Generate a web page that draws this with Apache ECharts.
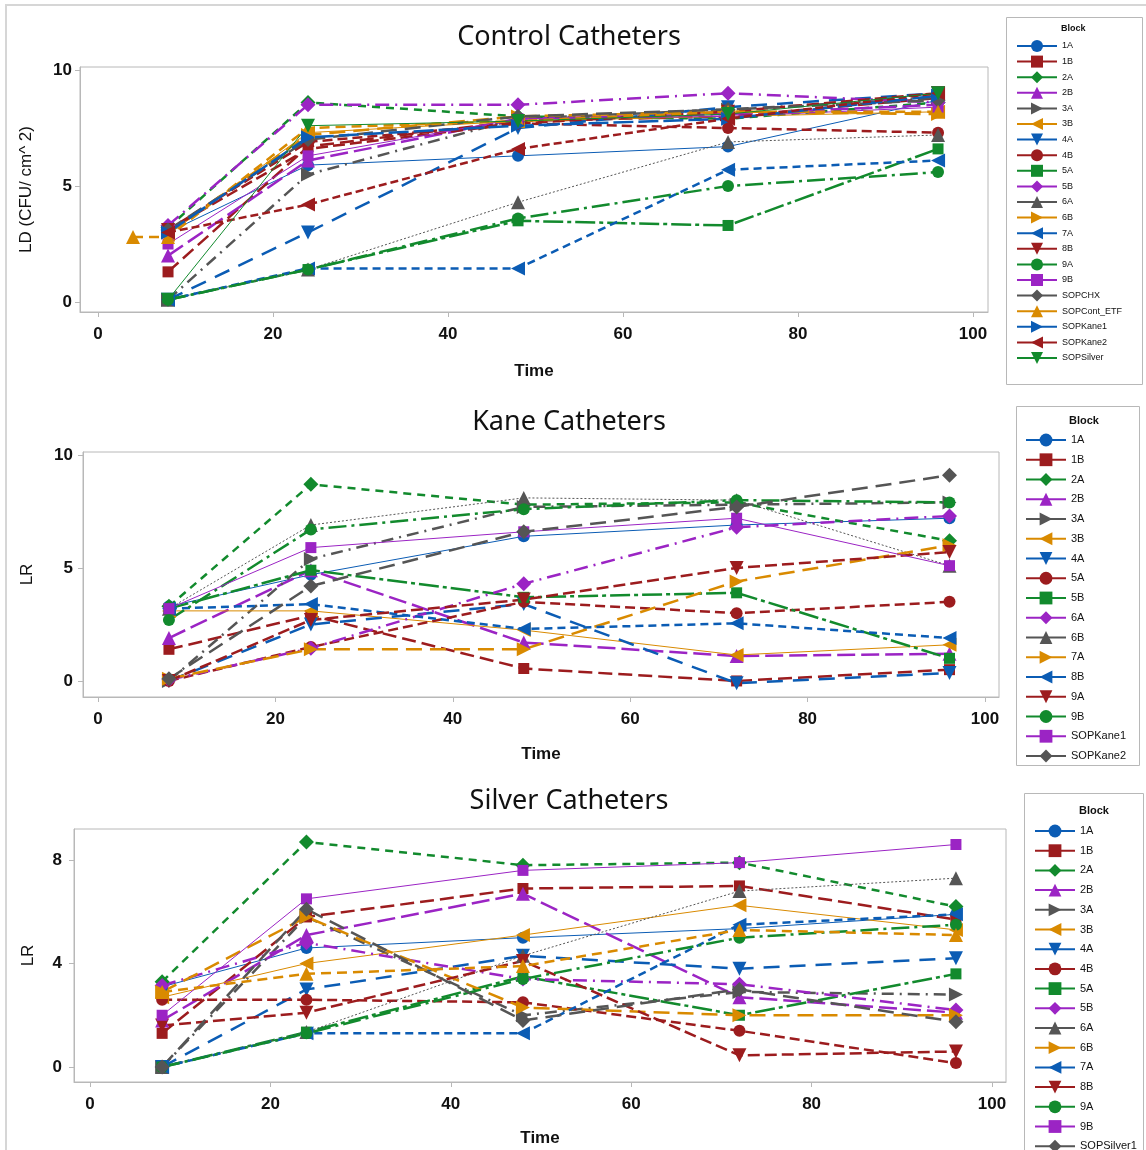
<!DOCTYPE html>
<html>
<head>
<meta charset="utf-8">
<title>Catheters</title>
<script src="https://cdn.jsdelivr.net/npm/echarts@6/dist/echarts.min.js"></script>
<style>
html, body { margin: 0; padding: 0; background: #fff; }
#page { position: relative; width: 1146px; height: 1150px; overflow: hidden; }
.frame { position: absolute; left: 5px; top: 4px; width: 1300px; height: 1300px;
         border-left: 2px solid #d6d6d6; border-top: 2px solid #d6d6d6; }
.chart { position: absolute; left: 0; width: 1146px; }
</style>
</head>
<body>
<div id="page">
  <div class="frame"></div>
  <div id="chart-control" class="chart" style="top:0;height:390px"></div>
  <div id="chart-kane" class="chart" style="top:390px;height:385px"></div>
  <div id="chart-silver" class="chart" style="top:775px;height:440px"></div>
</div>
<script>
// 采样时间 (h)
const TIMES = [8, 24, 48, 72, 96];
const X_TICKS = [0, 20, 40, 60, 80, 100];

// Control catheters, LD (CFU/cm^2) at TIMES
const controlBlocks = ['1A', '1B', '2A', '2B', '3A', '3B', '4A', '4B', '5A', '5B', '6A', '6B',
    '7A', '8B', '9A', '9B', 'SOPCHX', 'SOPCont_ETF', 'SOPKane1', 'SOPKane2', 'SOPSilver'];
const controlLD = [
    [3.0, 5.9, 6.3, 6.7, 8.7],   // 1A
    [1.3, 6.7, 7.8, 8.0, 8.8],   // 1B
    [3.2, 8.6, 8.0, 7.9, 8.6],   // 2A
    [2.0, 6.1, 7.9, 8.1, 8.5],   // 2B
    [0.1, 5.5, 7.9, 8.3, 8.8],   // 3A
    [2.9, 7.3, 7.8, 8.0, 8.2],   // 3B
    [0.1, 3.0, 7.5, 8.4, 9.0],   // 4A
    [3.1, 6.9, 7.7, 7.5, 7.3],   // 4B
    [0.1, 1.4, 3.5, 3.3, 6.6],   // 5A
    [3.3, 8.5, 8.5, 9.0, 8.6],   // 5B
    [0.1, 1.4, 4.3, 6.9, 7.2],   // 6A
    [3.0, 7.2, 8.0, 8.2, 8.1],   // 6B
    [0.1, 1.45, 1.45, 5.7, 6.1], // 7A
    [3.1, 6.6, 7.7, 8.2, 9.0],   // 8B
    [0.1, 1.4, 3.6, 5.0, 5.6],   // 9A
    [2.5, 6.3, 7.9, 8.0, 8.4],   // 9B
    [3.1, 7.0, 8.0, 8.3, 8.7],   // SOPCHX
    [2.8, 7.5, 7.8, 8.2, 8.2],   // SOPCont_ETF
    [3.0, 7.1, 7.6, 7.9, 8.9],   // SOPKane1
    [3.0, 4.2, 6.6, 7.9, 9.0],   // SOPKane2
    [0.1, 7.6, 7.8, 8.1, 9.0]    // SOPSilver
];
// SOPCont_ETF 多一个 4h 的点
const controlEtfEarly = [[4, 2.8]];

// Kane catheters, LR at TIMES
const kaneBlocks = ['1A', '1B', '2A', '2B', '3A', '3B', '4A', '5A', '5B', '6A', '6B', '7A',
    '8B', '9A', '9B', 'SOPKane1', 'SOPKane2'];
const kaneLR = [
    [3.3, 4.7, 6.4, 6.9, 7.2],   // 1A
    [1.4, 2.9, 0.55, 0.0, 0.5],  // 1B
    [3.3, 8.7, 7.8, 7.9, 6.2],   // 2A
    [1.9, 4.9, 1.7, 1.1, 1.2],   // 2B
    [0.0, 5.4, 7.7, 7.8, 7.9],   // 3A
    [3.1, 3.1, 2.25, 1.15, 1.6], // 3B
    [0.0, 2.5, 3.4, -0.1, 0.35], // 4A
    [0.0, 1.5, 3.5, 3.0, 3.5],   // 5A
    [3.2, 4.9, 3.7, 3.9, 1.0],   // 5B
    [0.05, 1.45, 4.3, 6.8, 7.3], // 6A
    [3.2, 6.9, 8.1, 8.0, 5.1],   // 6B
    [0.1, 1.4, 1.4, 4.4, 6.0],   // 7A
    [3.2, 3.4, 2.3, 2.55, 1.9],  // 8B
    [0.0, 2.7, 3.6, 5.0, 5.7],   // 9A
    [2.7, 6.7, 7.6, 8.0, 7.9],   // 9B
    [3.2, 5.9, 6.6, 7.2, 5.1],   // SOPKane1
    [0.1, 4.2, 6.6, 7.7, 9.1]    // SOPKane2
];

// Silver catheters, LR at TIMES
const silverBlocks = ['1A', '1B', '2A', '2B', '3A', '3B', '4A', '4B', '5A', '5B', '6A', '6B',
    '7A', '8B', '9A', '9B', 'SOPSilver1', 'SOPSilver2'];
const silverLR = [
    [3.1, 4.6, 5.0, 5.35, 5.9],  // 1A
    [1.3, 5.8, 6.9, 7.0, 5.7],   // 1B
    [3.3, 8.7, 7.8, 7.9, 6.2],   // 2A
    [1.8, 5.1, 6.7, 2.7, 2.1],   // 2B
    [0.0, 5.8, 2.0, 2.9, 2.8],   // 3A
    [2.7, 4.0, 5.1, 6.25, 5.3],  // 3B
    [0.0, 3.0, 4.3, 3.8, 4.2],   // 4A
    [2.6, 2.6, 2.5, 1.4, 0.15],  // 4B
    [0.0, 1.35, 3.5, 2.0, 3.6],  // 5A
    [3.15, 4.8, 3.4, 3.2, 2.2],  // 5B
    [0.0, 1.35, 4.3, 6.8, 7.3],  // 6A
    [2.9, 5.8, 2.3, 2.0, 2.0],   // 6B
    [0.0, 1.3, 1.3, 5.5, 5.9],   // 7A
    [1.6, 2.1, 4.1, 0.45, 0.6],  // 8B
    [0.0, 1.3, 3.4, 5.0, 5.5],   // 9A
    [2.0, 6.5, 7.6, 7.9, 8.6],   // 9B
    [0.0, 6.1, 1.8, 3.0, 1.75],  // SOPSilver1
    [2.9, 3.6, 3.9, 5.3, 5.1]    // SOPSilver2
];

//样式循环 begin
const COLORS = ['#0b5cb4', '#9c1c1e', '#128a2d', '#9b24c4', '#555555', '#d98a00'];
const SYMBOLS = ['circle', 'rect', 'diamond', 'triangle',
    'path://M0,0L10,5L0,10Z', 'path://M10,0L0,5L10,10Z', 'path://M0,0L10,0L5,10Z'];
const SYMBOL_SIZES = [12, 11, 15, 14, 14, 14, 14];
const DASHES = ['solid', [14, 6], [8, 6], [18, 6], [12, 6, 2, 6], 'solid', [16, 10], [10, 5],
    [20, 4, 4, 4], [14, 6, 2, 6], [2, 2], [16, 8], [8, 5], [12, 5], [18, 5, 3, 5], 'solid',
    [16, 8], [10, 6], [20, 5], [8, 4], 'solid'];
//end

const FONT = '"Liberation Sans", Arial, sans-serif';

function buildSeries(blocks, rows, early) {
    return blocks.map((name, i) => {
        let pts = TIMES.map((t, k) => [t, rows[i][k]]);
        if (early && early[name]) pts = early[name].concat(pts);
        const color = COLORS[i % 6];
        return {
            name: name,
            type: 'line',
            data: pts,
            symbol: SYMBOLS[i % 7],
            symbolSize: SYMBOL_SIZES[i % 7],
            itemStyle: { color: color, opacity: 1 },
            lineStyle: { color: color, width: i % 5 === 0 ? 1 : 2.5, type: DASHES[i % DASHES.length] },
            emphasis: { disabled: true },
            animation: false
        };
    });
}

/**
 * 初始化一个面板
 */
function initPanel(el, p) {
    let chart = echarts.init(el);
    const axisText = { fontFamily: FONT, fontSize: 17, fontWeight: 'bold', color: '#111' };
    chart.setOption({
        title: {
            text: p.title, left: 569, top: p.titleTop, textAlign: 'center', padding: 0,
            textStyle: { fontFamily: '"Noto Sans", sans-serif', fontSize: 27, fontWeight: 'normal', color: '#111' }
        },
        grid: {
            left: p.grid[0], top: p.grid[1], width: p.grid[2], height: p.grid[3],
            show: true, borderColor: '#b8b8b8', borderWidth: 1
        },
        xAxis: {
            type: 'value', min: p.xMin, max: p.xMax,
            name: 'Time', nameLocation: 'middle', nameGap: p.xNameGap,
            nameTextStyle: { fontFamily: FONT, fontSize: 17, fontWeight: 'bold', color: '#111' },
            axisLine: { onZero: false, lineStyle: { color: '#b8b8b8' } },
            axisTick: { show: true, length: 5, lineStyle: { color: '#b8b8b8' }, customValues: X_TICKS },
            axisLabel: Object.assign({ margin: 14, customValues: X_TICKS }, axisText),
            splitLine: { show: false }
        },
        yAxis: {
            type: 'value', min: p.yMin, max: p.yMax,
            name: p.yName, nameLocation: 'middle', nameGap: p.yNameGap,
            nameTextStyle: { fontFamily: FONT, fontSize: 17, color: '#111' },
            axisLine: { show: true, onZero: false, lineStyle: { color: '#b8b8b8' } },
            axisTick: { show: true, length: 5, lineStyle: { color: '#b8b8b8' }, customValues: p.yTicks },
            axisLabel: Object.assign({ margin: p.yLabelMargin, customValues: p.yTicks }, axisText),
            splitLine: { show: false }
        },
        legend: {
            orient: 'vertical', left: p.legend.left, top: p.legend.top, padding: 0,
            itemWidth: 40, itemHeight: p.legend.itemHeight, itemGap: p.legend.gap,
            selectedMode: false, data: p.blocks,
            lineStyle: { type: 'solid' },
            textStyle: { fontFamily: FONT, fontSize: p.legend.fontSize, color: '#111' }
        },
        graphic: [{
            type: 'rect', silent: true,
            shape: { x: p.box[0] + 0.5, y: p.box[1] + 0.5, width: p.box[2], height: p.box[3] },
            style: { fill: 'none', stroke: '#b8b8b8', lineWidth: 1 }
        }, {
            type: 'text', silent: true, left: p.blockPos[0], top: p.blockPos[1],
            style: { text: 'Block', fontFamily: FONT, fontSize: p.legend.fontSize, fontWeight: 'bold', fill: '#111' }
        }],
        series: buildSeries(p.blocks, p.rows, p.early)
    });
    return chart;
}

Charts = {};
Charts.control = initPanel(document.getElementById('chart-control'), {
    title: 'Control Catheters', titleTop: 24,
    grid: [80, 67, 908, 245],
    xMin: -2.06, xMax: 101.71, xNameGap: 51,
    yMin: -0.43, yMax: 10.13, yTicks: [0, 5, 10], yName: 'LD (CFU/ cm^ 2)', yNameGap: 45, yLabelMargin: 8,
    blocks: controlBlocks, rows: controlLD, early: { 'SOPCont_ETF': controlEtfEarly },
    legend: { left: 1016, top: 40, itemHeight: 15, gap: 3.6, fontSize: 9 },
    box: [1006, 17, 136, 367], blockPos: [1061, 24]
});
Charts.kane = initPanel(document.getElementById('chart-kane'), {
    title: 'Kane Catheters', titleTop: 19,
    grid: [83, 62, 916, 245],
    xMin: -1.69, xMax: 101.58, xNameGap: 49,
    yMin: -0.71, yMax: 10.13, yTicks: [0, 5, 10], yName: 'LR', yNameGap: 47, yLabelMargin: 10,
    blocks: kaneBlocks, rows: kaneLR,
    legend: { left: 1025, top: 43.6, itemHeight: 16, gap: 6.95, fontSize: 11 },
    box: [1016, 16, 123, 359], blockPos: [1069, 25]
});
Charts.silver = initPanel(document.getElementById('chart-silver'), {
    title: 'Silver Catheters', titleTop: 13,
    grid: [74, 54, 932, 253],
    xMin: -1.77, xMax: 101.55, xNameGap: 48,
    yMin: -0.58, yMax: 9.2, yTicks: [0, 4, 8], yName: 'LR', yNameGap: 37, yLabelMargin: 12,
    blocks: silverBlocks, rows: silverLR,
    legend: { left: 1034, top: 49.6, itemHeight: 16, gap: 6.9, fontSize: 11 },
    box: [1024, 18, 119, 430], blockPos: [1079, 30]
});

window.onresize = function () {
    for (let id in Charts) Charts[id].resize();
};
</script>
</body>
</html>
